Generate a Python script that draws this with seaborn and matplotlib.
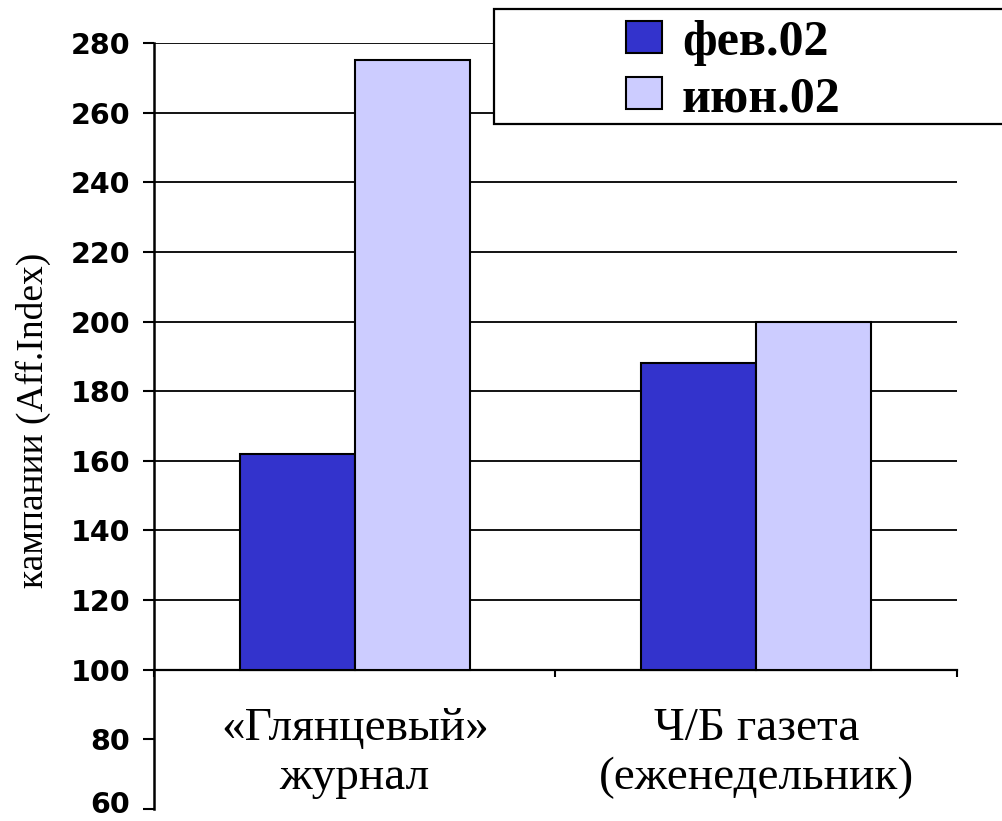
import matplotlib
matplotlib.use("Agg")
import matplotlib.pyplot as plt
from matplotlib.patches import Patch, Rectangle
from matplotlib.transforms import ScaledTranslation
import pandas as pd
import seaborn as sns

# Data
categories = ["«Глянцевый»\nжурнал", "Ч/Б газета\n(еженедельник)"]
periods = ["фев.02", "июн.02"]
feb_values = [162, 188]
jun_values = [275, 200]
y_ticks = [60, 80, 100, 120, 140, 160, 180, 200, 220, 240, 260, 280]
y_label = "кампании (Aff.Index)"
baseline = 100

colors = {"фев.02": "#3333CC", "июн.02": "#CCCCFF"}

df = pd.DataFrame({
    "category": categories * 2,
    "period": [periods[0]] * len(categories) + [periods[1]] * len(categories),
    "value": feb_values + jun_values,
})

sns.set_theme(style="white")
plt.rcParams["font.family"] = ["DejaVu Sans"]
plt.rcParams["text.color"] = "black"

fig = plt.figure(figsize=(10.03, 8.21), dpi=100)
ax = fig.add_axes([154 / 1003, 1 - 809 / 821, (957 - 154) / 1003, (809 - 43) / 821])

sns.barplot(data=df, x="category", y="value", hue="period", palette=colors,
            hue_order=periods, order=categories, width=0.574, saturation=1,
            edgecolor="black", linewidth=1.5, legend=False, ax=ax, zorder=3)

# bars rise from the baseline value rather than from zero
for p in ax.patches:
    top = p.get_y() + p.get_height()
    p.set_y(baseline)
    p.set_height(top - baseline)

ax.set_xlim(-0.5, len(categories) - 0.5)
ax.set_ylim(y_ticks[0], y_ticks[-1])

# horizontal grid only above the baseline
grid_vals = [v for v in y_ticks if v > baseline]
ax.hlines(grid_vals, -0.5, len(categories) - 0.5, colors="black", linewidth=1.3, zorder=1)

for s in ["top", "right"]:
    ax.spines[s].set_visible(False)
ax.spines["left"].set_color("black")
ax.spines["left"].set_linewidth(1.8)
ax.spines["bottom"].set_position(("data", baseline))
ax.spines["bottom"].set_color("black")
ax.spines["bottom"].set_linewidth(1.6)

ax.set_yticks(y_ticks)
ax.set_yticklabels([str(v) for v in y_ticks], fontsize=20.5, fontweight="bold", color="black")
ax.tick_params(axis="y", direction="out", length=8, width=1.5, color="black", left=True, pad=9)

# keep the lowest label inside the figure edge
low = ax.get_yticklabels()[0]
low.set_transform(low.get_transform() + ScaledTranslation(0, 5 / 72, fig.dpi_scale_trans))

ax.set_xticks([i - 0.5 for i in range(len(categories) + 1)])
ax.set_xticklabels([])
ax.tick_params(axis="x", direction="out", length=5, width=1.5, color="black", bottom=True)
ax.set_xlabel("")
ax.set_ylabel("")

for i, lab in enumerate(categories):
    ax.text(i, 76, lab, ha="center", va="center", fontsize=34,
            family="Liberation Serif", linespacing=1.22, color="black")

fig.text(33 / 1003, 1 - 420 / 821, y_label, rotation=90, ha="center", va="center",
         fontsize=27, family="Liberation Serif", color="black")

# legend box
fig.patches.append(Rectangle((494 / 1003, 1 - 124 / 821), 0.6, 115 / 821,
                             transform=fig.transFigure, facecolor="white",
                             edgecolor="black", linewidth=1.6, zorder=5))
handles = [Patch(facecolor=colors[p], edgecolor="black", linewidth=1.5) for p in periods]
leg = fig.legend(handles, periods, loc="upper left", bbox_to_anchor=(626 / 1003, 1 - 20 / 821),
                 frameon=False, prop={"family": "Liberation Serif", "weight": "bold", "size": 36},
                 labelcolor="black", handlelength=0.72, handleheight=0.6, handletextpad=0.4,
                 labelspacing=0.2, borderpad=0, borderaxespad=0)
leg.set_zorder(6)

fig.savefig("out.png", dpi=100)
